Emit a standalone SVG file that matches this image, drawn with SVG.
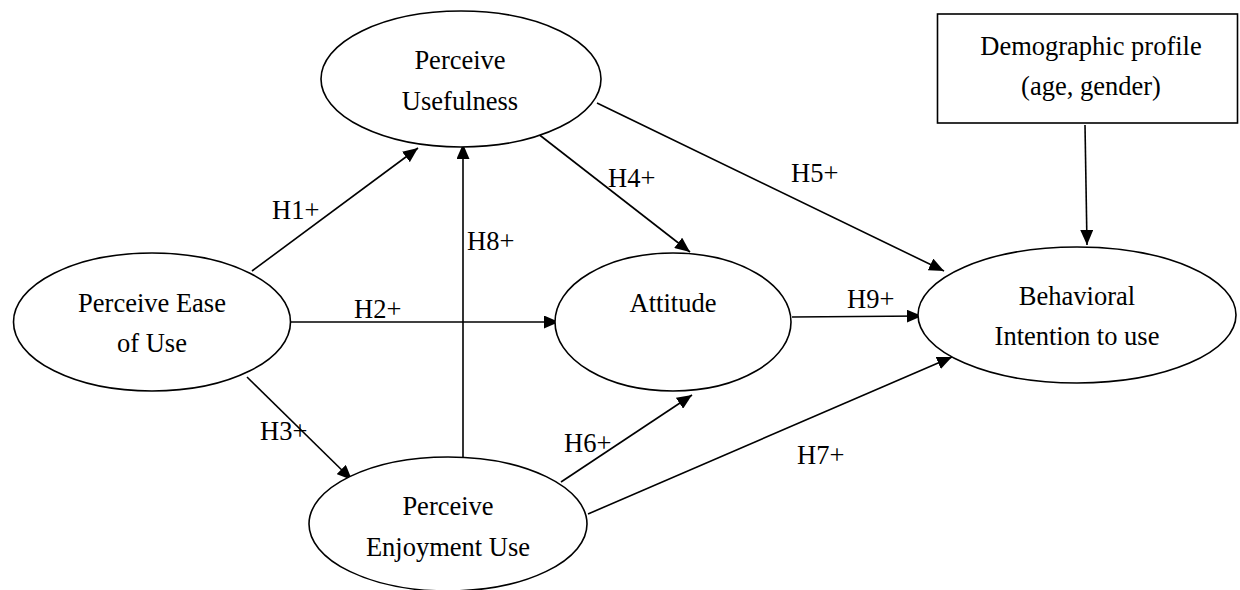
<svg xmlns="http://www.w3.org/2000/svg" width="1240" height="590" viewBox="0 0 1240 590">
<style>
.n{fill:#fff;stroke:#000;stroke-width:1.6}
.t{font-family:"Liberation Serif","Times New Roman",serif;font-size:26.5px;fill:#000;text-anchor:middle}
.l{font-family:"Liberation Serif","Times New Roman",serif;font-size:26.5px;fill:#000}
.c{stroke:#000;stroke-width:1.6;fill:none;marker-end:url(#ah)}
</style>
<defs>
<marker id="ah" markerUnits="userSpaceOnUse" markerWidth="16" markerHeight="13" refX="15" refY="6.5" orient="auto">
<path d="M0,0 L15,6.5 L0,13 z" fill="#000"/>
</marker>
</defs>
<rect width="1240" height="590" fill="#fff"/>
<g id="connectors">
<line class="c" x1="252" y1="271" x2="418" y2="148"/>
<line class="c" x1="463" y1="458" x2="463" y2="144"/>
<line class="c" x1="537" y1="133" x2="690" y2="252"/>
<line class="c" x1="597" y1="103" x2="944" y2="271"/>
<line class="c" x1="286" y1="322" x2="559" y2="322"/>
<line class="c" x1="792" y1="317" x2="922" y2="316"/>
<line class="c" x1="1085" y1="125" x2="1087" y2="245"/>
<line class="c" x1="247" y1="377" x2="352" y2="480"/>
<line class="c" x1="561" y1="482" x2="692" y2="395"/>
<line class="c" x1="588" y1="514" x2="952" y2="357"/>
</g>
<g id="labels">
<text class="l" x="272" y="219">H1+</text>
<text class="l" x="354" y="318">H2+</text>
<text class="l" x="260" y="440">H3+</text>
<text class="l" x="608" y="187">H4+</text>
<text class="l" x="791" y="182">H5+</text>
<text class="l" x="564" y="452">H6+</text>
<text class="l" x="797" y="464">H7+</text>
<text class="l" x="467" y="250">H8+</text>
<text class="l" x="847" y="308">H9+</text>
</g>
<g id="usefulness">
<ellipse class="n" cx="461" cy="79" rx="140" ry="68"/>
<text class="t" x="460" y="69">Perceive</text>
<text class="t" x="460" y="110">Usefulness</text>
</g>
<g id="ease">
<ellipse class="n" cx="152" cy="322" rx="138.5" ry="69"/>
<text class="t" x="152" y="312">Perceive Ease</text>
<text class="t" x="152" y="352">of Use</text>
</g>
<g id="attitude">
<ellipse class="n" cx="673" cy="322" rx="118" ry="69"/>
<text class="t" x="673" y="312">Attitude</text>
</g>
<g id="intention">
<ellipse class="n" cx="1077" cy="315" rx="159" ry="68"/>
<text class="t" x="1077" y="305">Behavioral</text>
<text class="t" x="1077" y="345">Intention to use</text>
</g>
<g id="enjoyment">
<ellipse class="n" cx="448" cy="524" rx="139" ry="67"/>
<text class="t" x="448" y="515">Perceive</text>
<text class="t" x="448" y="556">Enjoyment Use</text>
</g>
<g id="demographic">
<rect class="n" x="937.5" y="14" width="300" height="109"/>
<text class="t" x="1091" y="55">Demographic profile</text>
<text class="t" x="1091" y="95">(age, gender)</text>
</g>
</svg>
